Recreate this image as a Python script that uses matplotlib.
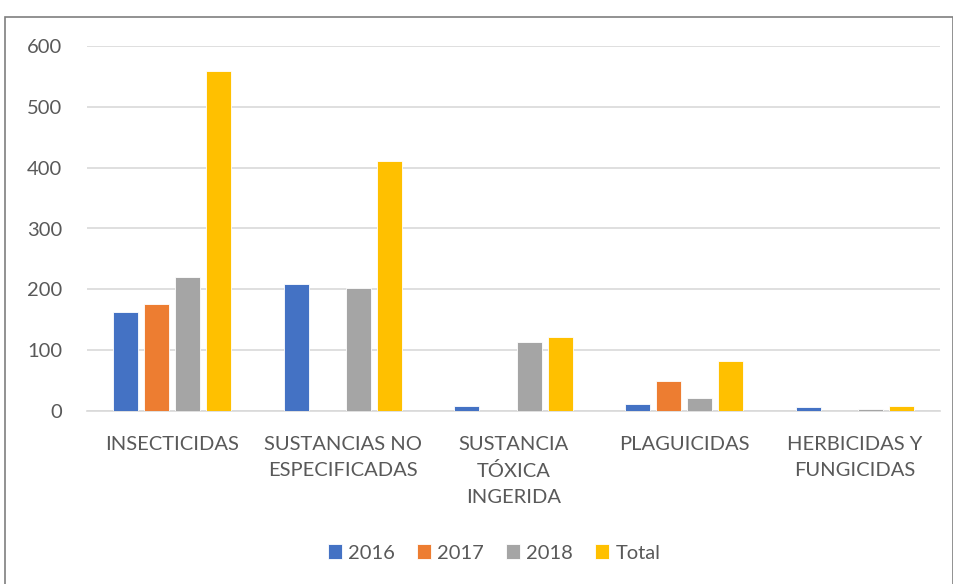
import matplotlib
matplotlib.use("Agg")
import matplotlib.pyplot as plt
import numpy as np
from matplotlib.patches import Rectangle

categories = ["INSECTICIDAS", "SUSTANCIAS NO\nESPECIFICADAS", "SUSTANCIA\nTÓXICA\nINGERIDA",
              "PLAGUICIDAS", "HERBICIDAS Y\nFUNGICIDAS"]
series_names = ["2016", "2017", "2018", "Total"]
v2016 = [163, 209, 8, 12, 6]
v2017 = [176, 0, 0, 49, 0]
v2018 = [220, 202, 113, 21, 3]
vtotal = [559, 411, 121, 82, 9]
yticks = [0, 100, 200, 300, 400, 500, 600]

colors = ["#4472C4", "#ED7D31", "#A5A5A5", "#FFC000"]
text_color = "#595959"
plt.rcParams['font.family'] = ['Lato', 'DejaVu Sans']

fig = plt.figure(figsize=(9.54, 5.84), dpi=100)
ax = fig.add_axes([87/954, 1-411/584, (940-87)/954, (411-46)/584])

x = np.arange(len(categories))
step = 0.182
width = 0.1465
data = [v2016, v2017, v2018, vtotal]
for i, (name, vals, c) in enumerate(zip(series_names, data, colors)):
    ax.bar(x + (i - 1.5) * step, vals, width=width, color=c, label=name,
           edgecolor="white", linewidth=0.6, zorder=3)

ax.set_xlim(-0.5, len(categories) - 0.5)
ax.set_ylim(0, 600)
ax.set_yticks(yticks)
ax.set_yticklabels([str(t) for t in yticks])
ax.set_xticks(x)
ax.set_xticklabels(categories, linespacing=1.62)
ax.grid(axis="y", color="#D9D9D9", linewidth=1.2, zorder=0)
ax.set_axisbelow(True)
for s in ["top", "right", "left"]:
    ax.spines[s].set_visible(False)
ax.spines["bottom"].set_color("#D9D9D9")
ax.spines["bottom"].set_linewidth(1.2)
ax.tick_params(axis="both", length=0, colors=text_color, labelsize=14.5)
ax.tick_params(axis="x", pad=18)
ax.tick_params(axis="y", pad=18)

leg = fig.legend(loc="center", bbox_to_anchor=(494/954, 1-553/584), ncol=4, frameon=False,
                 fontsize=14.5, handlelength=0.7, handleheight=0.7, handletextpad=0.3,
                 columnspacing=1.1)
for t in leg.get_texts():
    t.set_color(text_color)

fig.patches.append(Rectangle((5/954, -0.01), 948/954, 1-17/584+0.01, transform=fig.transFigure,
                             fill=False, edgecolor="#7F7F7F", linewidth=1.2))

fig.savefig("out.png", dpi=100)
